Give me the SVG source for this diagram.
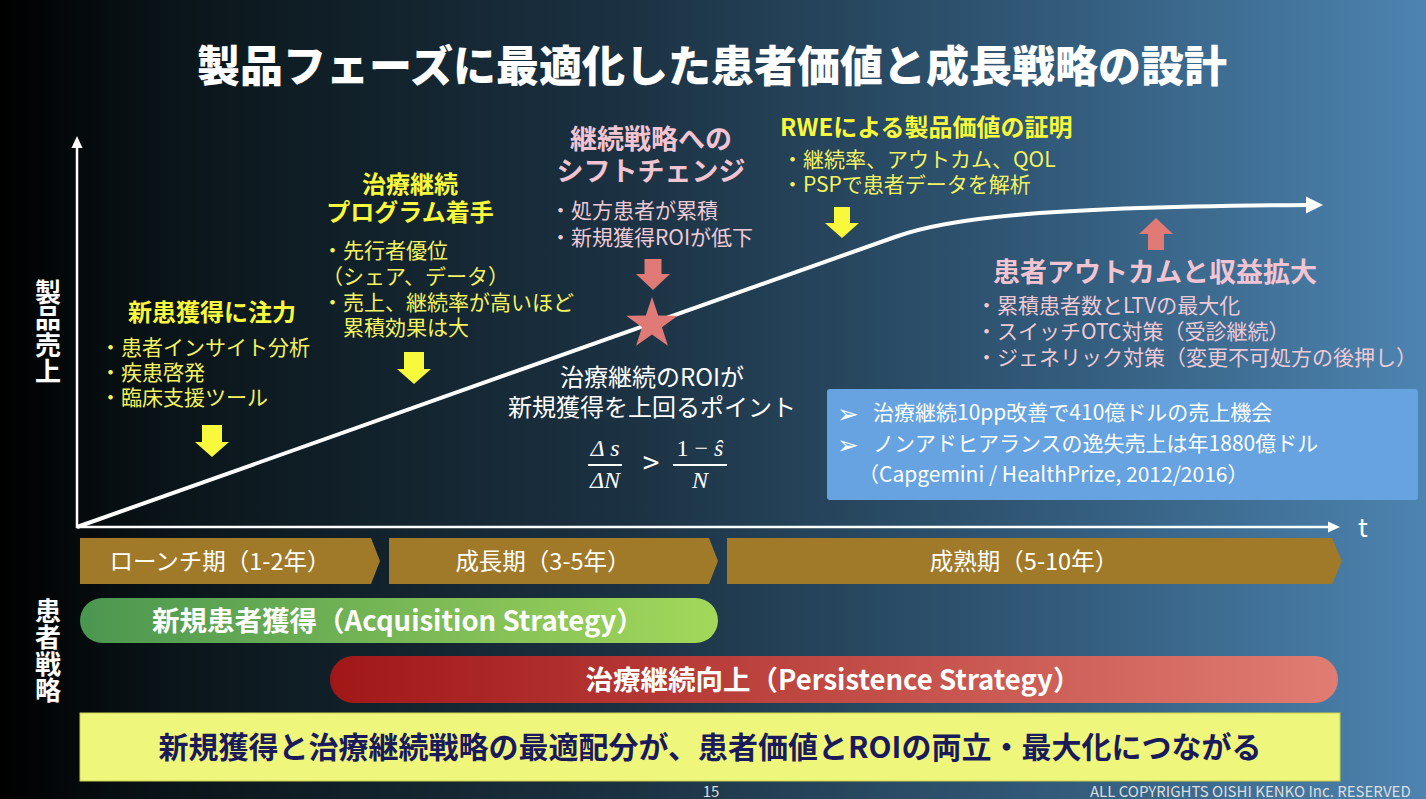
<svg xmlns="http://www.w3.org/2000/svg" width="1426" height="799" viewBox="0 0 1426 799">
<defs>
<linearGradient id="bg" x1="0" y1="0" x2="1" y2="0">
<stop offset="0" stop-color="#000000"/>
<stop offset="0.12" stop-color="#0a1519"/>
<stop offset="0.45" stop-color="#1c3344"/>
<stop offset="0.75" stop-color="#335c7c"/>
<stop offset="1" stop-color="#4d84b0"/>
</linearGradient>
<linearGradient id="gGreen" x1="0" y1="0" x2="1" y2="0">
<stop offset="0" stop-color="#4b9650"/>
<stop offset="1" stop-color="#a3d85a"/>
</linearGradient>
<linearGradient id="gRed" x1="0" y1="0" x2="1" y2="0">
<stop offset="0" stop-color="#a11717"/>
<stop offset="1" stop-color="#e07d72"/>
</linearGradient>
<style>
text{font-family:"Noto Sans CJK JP","Noto Sans",sans-serif;}
.title{font-size:43px;font-weight:900;fill:#ffffff;}
.ytitle{font-size:24px;font-weight:700;fill:#f8f83c;}
.ybul{font-size:21px;fill:#f3f360;}
.ptitle{font-size:27px;font-weight:700;fill:#f2c4d2;}
.pbul{font-size:21px;fill:#efc9d6;}
.wtxt{font-size:24px;fill:#ffffff;}
.math{font-family:"Liberation Serif","DejaVu Serif",serif;font-style:italic;font-size:24px;fill:#ffffff;}
.yarrow{fill:#f8f83c;}
.parrow{fill:#e07a76;}
.vlabel{font-size:26px;font-weight:700;fill:#ffffff;writing-mode:vertical-rl;letter-spacing:0.5px;}
.phase{fill:#a07a28;}
.phtxt{font-size:23.5px;fill:#ffffff;}
.strat{font-size:27.5px;font-weight:700;fill:#ffffff;}
.btxt{font-size:21px;fill:#ffffff;}
.bullet{font-family:"DejaVu Sans",sans-serif;font-size:26px;fill:#ffffff;}
.concl{font-size:30px;font-weight:700;fill:#1b1b5c;}
.foot{font-size:15px;fill:#dddddd;}
.axis{stroke:#ffffff;stroke-width:2.5;fill:none;}
.curve{stroke:#ffffff;stroke-width:4;fill:none;stroke-linejoin:round;}
</style>
</defs>
<rect x="0" y="0" width="1426" height="799" fill="url(#bg)"/>

<g id="title">
<text class="title" x="712" y="82" text-anchor="middle">製品フェーズに最適化した患者価値と成長戦略の設計</text>
</g>

<g id="label-sales">
<text class="vlabel" x="48" y="279">製品売上</text>
</g>
<g id="label-strategy">
<text class="vlabel" x="48" y="598">患者戦略</text>
</g>

<g id="connectors">
<line class="axis" x1="77" y1="528" x2="77" y2="145"/>
<polygon points="77,136 71.5,148 82.5,148" fill="#ffffff"/>
<line class="axis" x1="76" y1="527" x2="1330" y2="527"/>
<polygon points="1340,527 1328,521.5 1328,532.5" fill="#ffffff"/>
<path class="curve" d="M77,527 L895,237 C945,219 1030,207 1309,205"/>
<polygon points="1323,205 1306,196.5 1306,213.5" fill="#ffffff"/>
</g>
<g id="axis-t">
<text x="1358" y="537" font-size="26" fill="#ffffff">t</text>
</g>

<g id="n-acquisition-focus">
<text class="ytitle" x="212" y="321" text-anchor="middle">新患獲得に注力</text>
<text class="ybul"><tspan x="100" y="355">・患者インサイト分析</tspan><tspan x="100" y="380">・疾患啓発</tspan><tspan x="100" y="405">・臨床支援ツール</tspan></text>
<path class="yarrow" d="M202,425 H222 V442 H229 L212,457 L195,442 H202 Z"/>
</g>

<g id="n-program">
<text class="ytitle" text-anchor="middle"><tspan x="410" y="193">治療継続</tspan><tspan x="410" y="221">プログラム着手</tspan></text>
<text class="ybul"><tspan x="322" y="258">・先行者優位</tspan><tspan x="322" y="284">（シェア、データ）</tspan><tspan x="322" y="310">・売上、継続率が高いほど</tspan><tspan x="343" y="335">累積効果は大</tspan></text>
<path class="yarrow" d="M404,352 H424 V369 H431 L414,384 L397,369 H404 Z"/>
</g>

<g id="n-shift">
<text class="ptitle" text-anchor="middle"><tspan x="651" y="149">継続戦略への</tspan><tspan x="651" y="181">シフトチェンジ</tspan></text>
<text class="pbul"><tspan x="550" y="218">・処方患者が累積</tspan><tspan x="550" y="245">・新規獲得ROIが低下</tspan></text>
<path class="parrow" d="M644.5,259 H661.5 V274 H670 L653,290 L636,274 H644.5 Z"/>
</g>

<g id="n-point">
<polygon class="parrow" points="652,297 658.2,315.5 677.7,315.7 662,327.2 667.9,345.8 652,334.5 636.1,345.8 642,327.2 626.3,315.7 645.8,315.5"/>
<text class="wtxt" text-anchor="middle"><tspan x="652" y="386">治療継続のROIが</tspan><tspan x="652" y="416">新規獲得を上回るポイント</tspan></text>
<text class="math" x="605" y="456" text-anchor="middle">Δ s</text>
<line x1="588" y1="465" x2="622" y2="465" stroke="#ffffff" stroke-width="1.8"/>
<text class="math" x="605" y="488" text-anchor="middle">ΔN</text>
<text x="651" y="474" text-anchor="middle" font-family="Liberation Serif, serif" font-size="30" fill="#ffffff">&gt;</text>
<text class="math" x="700" y="456" text-anchor="middle"><tspan font-style="normal">1 − </tspan>ŝ</text>
<line x1="673" y1="465" x2="727" y2="465" stroke="#ffffff" stroke-width="1.8"/>
<text class="math" x="700" y="488" text-anchor="middle">N</text>
</g>

<g id="n-rwe">
<text class="ytitle" x="780" y="136" font-size="24.5">RWEによる製品価値の証明</text>
<text class="ybul"><tspan x="782" y="167">・継続率、アウトカム、QOL</tspan><tspan x="782" y="192">・PSPで患者データを解析</tspan></text>
<path class="yarrow" d="M834,207 H850 V223 H859 L842,238 L825,223 H834 Z"/>
</g>

<g id="n-outcome">
<path class="parrow" d="M1156,218 L1173,234 H1164 V250 H1148 V234 H1139 Z"/>
<text class="ptitle" x="1155" y="282" text-anchor="middle">患者アウトカムと収益拡大</text>
<text class="pbul"><tspan x="976" y="313">・累積患者数とLTVの最大化</tspan><tspan x="976" y="339">・スイッチOTC対策（受診継続）</tspan><tspan x="976" y="365">・ジェネリック対策（変更不可処方の後押し）</tspan></text>
</g>

<g id="n-evidence">
<rect x="827" y="389" width="591" height="111" rx="3" fill="#66a3e0"/>
<text class="bullet"><tspan x="837" y="423">➢</tspan><tspan x="837" y="454">➢</tspan></text>
<text class="btxt"><tspan x="873" y="420">治療継続10pp改善で410億ドルの売上機会</tspan><tspan x="873" y="451">ノンアドヒアランスの逸失売上は年1880億ドル</tspan><tspan x="858" y="482">（Capgemini / HealthPrize, 2012/2016）</tspan></text>
</g>

<g id="phases">
<polygon class="phase" points="80,538 371,538 380,561 371,584 80,584"/>
<polygon class="phase" points="389,538 709,538 718,561 709,584 389,584"/>
<polygon class="phase" points="727,538 1332,538 1342,561 1332,584 727,584"/>
<text class="phtxt" x="220" y="570" text-anchor="middle">ローンチ期（1-2年）</text>
<text class="phtxt" x="543" y="570" text-anchor="middle">成長期（3-5年）</text>
<text class="phtxt" x="1024" y="570" text-anchor="middle">成熟期（5-10年）</text>
</g>

<g id="n-acquisition-strategy">
<rect x="80" y="598" width="638" height="45" rx="22.5" fill="url(#gGreen)"/>
<text class="strat" x="398" y="631" text-anchor="middle">新規患者獲得（Acquisition Strategy）</text>
</g>

<g id="n-persistence-strategy">
<rect x="330" y="656" width="1008" height="47" rx="23.5" fill="url(#gRed)"/>
<text class="strat" x="833" y="690" text-anchor="middle">治療継続向上（Persistence Strategy）</text>
</g>

<g id="n-conclusion">
<rect x="80" y="713" width="1260" height="68" fill="#eff67c" stroke="#c9d04e" stroke-width="1"/>
<text class="concl" x="710" y="758" text-anchor="middle">新規獲得と治療継続戦略の最適配分が、患者価値とROIの両立・最大化につながる</text>
</g>

<g id="footer">
<text class="foot" x="711" y="797" text-anchor="middle" font-size="13">15</text>
<text class="foot" x="1090" y="797">ALL COPYRIGHTS OISHI KENKO Inc. RESERVED</text>
</g>
</svg>
